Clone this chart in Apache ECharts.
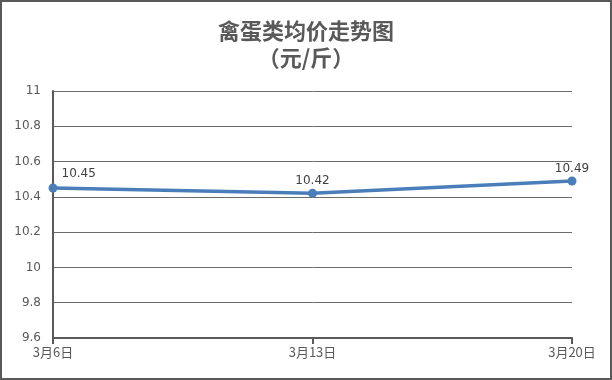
<!doctype html>
<html>
<head>
<meta charset="utf-8">
<title>禽蛋类均价走势图</title>
<script src="https://cdn.jsdelivr.net/npm/echarts@6/dist/echarts.min.js"></script>
<style>
  html, body { margin: 0; padding: 0; }
  #chart { width: 608px; height: 376px; border: 2px solid #595959; background: #fff; }
</style>
</head>
<body>
<div id="chart"></div>
<script>
var dates = ['3月6日', '3月13日', '3月20日'];
var prices = [10.45, 10.42, 10.49];

var myChart = echarts.init(document.getElementById('chart'));
var option = {
    animation: false,
    title: {
        text: '禽蛋类均价走势图\n（元/斤）',
        left: 'center',
        top: 10,
        textStyle: {
            color: '#595959',
            fontSize: 22,
            fontWeight: 'bold',
            lineHeight: 27,
            fontFamily: 'Noto Sans CJK SC'
        }
    },
    grid: { left: 51, right: 38, top: 89, bottom: 40 },
    xAxis: {
        type: 'category',
        data: dates,
        boundaryGap: false,
        axisLine: { lineStyle: { color: '#595959', width: 2 } },
        axisTick: { show: true, length: 6, lineStyle: { color: '#595959', width: 2 } },
        axisLabel: { color: '#595959', fontSize: 13, margin: 8, fontFamily: 'Noto Sans CJK SC' }
    },
    yAxis: {
        type: 'value',
        min: 9.6,
        max: 11,
        interval: 0.2,
        axisLine: { show: true, lineStyle: { color: '#595959', width: 2 } },
        axisTick: { show: false },
        axisLabel: { color: '#595959', fontSize: 12, margin: 12, fontFamily: 'Verdana, DejaVu Sans' },
        splitLine: { lineStyle: { color: '#6b6b6b', width: 1 } }
    },
    series: [{
        type: 'line',
        data: prices.map(function (v, i) {
            var d = { value: v };
            if (i === 0) d.label = { position: 'right', offset: [2, -14] };
            return d;
        }),
        symbol: 'circle',
        symbolSize: 9,
        lineStyle: { color: '#4a7ebb', width: 3.5 },
        itemStyle: { color: '#4a7ebb' },
        label: {
            show: true,
            position: 'top',
            distance: 2,
            color: '#404040',
            fontSize: 12,
            fontFamily: 'Verdana, DejaVu Sans'
        }
    }]
};
myChart.setOption(option);
</script>
</body>
</html>
